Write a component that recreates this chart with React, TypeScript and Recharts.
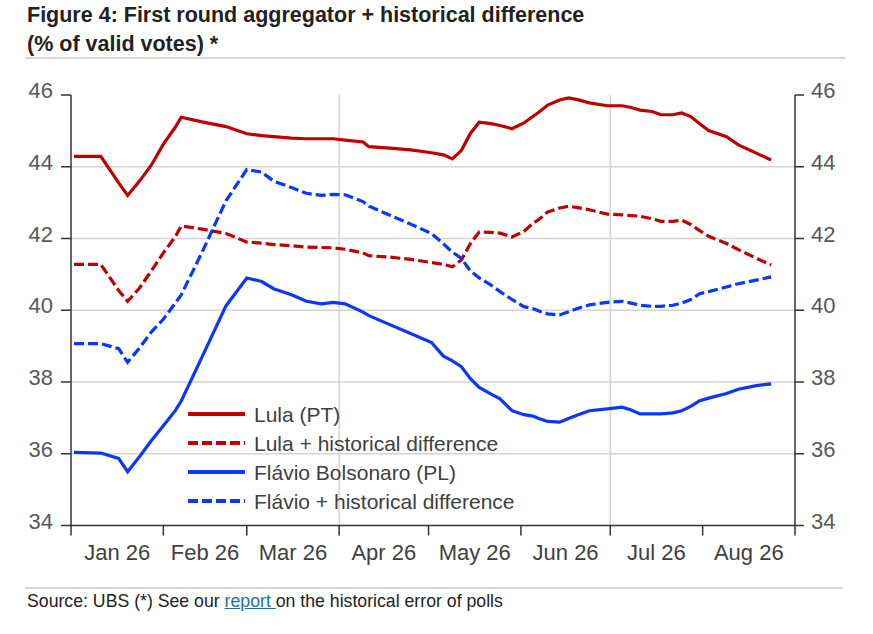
import React from 'react';
import { LineChart, Line, XAxis, YAxis, CartesianGrid } from 'recharts';

// Day index from 1 Jan 2026
const days = [1, 10, 16, 19, 23, 27, 31, 35, 37, 44, 52, 59, 64, 68, 74, 79, 84, 88, 92, 98, 100, 107, 114, 121, 125, 128, 131, 134, 137, 141, 144, 148, 152, 155, 157, 160, 164, 167, 170, 174, 180, 185, 188, 191, 195, 198, 202, 205, 208, 211, 214, 220, 224, 230, 235];

const lula = [44.29, 44.29, 43.55, 43.2, 43.6, 44.05, 44.63, 45.1, 45.38, 45.25, 45.12, 44.92, 44.87, 44.84, 44.8, 44.78, 44.78, 44.78, 44.74, 44.69, 44.56, 44.52, 44.47, 44.39, 44.33, 44.22, 44.45, 44.92, 45.24, 45.2, 45.15, 45.06, 45.22, 45.4, 45.52, 45.72, 45.86, 45.92, 45.87, 45.78, 45.7, 45.7, 45.65, 45.58, 45.54, 45.45, 45.45, 45.5, 45.4, 45.2, 45.01, 44.84, 44.61, 44.38, 44.19];

const lulaHist = [41.28, 41.28, 40.55, 40.25, 40.62, 41.1, 41.6, 42.05, 42.35, 42.26, 42.14, 41.9, 41.87, 41.83, 41.8, 41.76, 41.75, 41.74, 41.7, 41.6, 41.52, 41.48, 41.42, 41.33, 41.28, 41.21, 41.4, 41.85, 42.18, 42.17, 42.15, 42.04, 42.2, 42.42, 42.53, 42.74, 42.85, 42.9, 42.86, 42.8, 42.68, 42.66, 42.64, 42.62, 42.55, 42.48, 42.48, 42.51, 42.39, 42.22, 42.06, 41.86, 41.69, 41.45, 41.26];

const flavio = [36.04, 36.02, 35.87, 35.5, 35.92, 36.37, 36.78, 37.2, 37.47, 38.7, 40.12, 40.9, 40.8, 40.6, 40.43, 40.25, 40.18, 40.22, 40.18, 39.95, 39.85, 39.6, 39.35, 39.1, 38.72, 38.59, 38.43, 38.1, 37.85, 37.66, 37.53, 37.2, 37.09, 37.05, 36.98, 36.9, 36.88, 36.98, 37.08, 37.2, 37.25, 37.3, 37.22, 37.11, 37.11, 37.11, 37.14, 37.2, 37.32, 37.48, 37.55, 37.68, 37.8, 37.9, 37.95];

const flavioHist = [39.07, 39.07, 38.93, 38.55, 38.95, 39.4, 39.75, 40.2, 40.43, 41.62, 43.05, 43.92, 43.85, 43.6, 43.42, 43.26, 43.2, 43.23, 43.22, 43.03, 42.9, 42.65, 42.4, 42.14, 41.85, 41.62, 41.45, 41.1, 40.9, 40.7, 40.52, 40.3, 40.1, 40.05, 39.98, 39.9, 39.87, 39.96, 40.05, 40.15, 40.22, 40.25, 40.2, 40.14, 40.11, 40.11, 40.14, 40.2, 40.3, 40.46, 40.52, 40.65, 40.74, 40.84, 40.93];

const monthStarts = [0, 31, 59, 90, 120, 151, 181, 212, 243];
const monthLabels = ['Jan 26', 'Feb 26', 'Mar 26', 'Apr 26', 'May 26', 'Jun 26', 'Jul 26', 'Aug 26'];
const quarterStarts = [90, 181];
const yTicks = [34, 36, 38, 40, 42, 44, 46];
const gridValues = [36, 38, 40, 42, 44];

const FONT = '"Liberation Sans", Arial, Helvetica, sans-serif';
const RED = '#c00000';
const BLUE = '#0a36ff';
const AXIS = '#333333';

const seriesList = [
  { key: 'lula', name: 'Lula (PT)', color: RED, dash: undefined as string | undefined, axis: 'left' },
  { key: 'lulaHist', name: 'Lula + historical difference', color: RED, dash: '10 4', axis: 'left' },
  { key: 'flavio', name: 'Flávio Bolsonaro (PL)', color: BLUE, dash: undefined as string | undefined, axis: 'right' },
  { key: 'flavioHist', name: 'Flávio + historical difference', color: BLUE, dash: '10 4', axis: 'right' },
];

const data = days.map((d, i) => ({
  d,
  lula: lula[i],
  lulaHist: lulaHist[i],
  flavio: flavio[i],
  flavioHist: flavioHist[i],
}));

const PLOT_LEFT = 71;
const PLOT_RIGHT = 795;
const PLOT_TOP = 95;
const PLOT_BOTTOM = 525.5;
const W = 873;
const H = 634;
const YAXIS_W = 60;
const XAXIS_H = 40;
const PX_PER_DAY = (PLOT_RIGHT - PLOT_LEFT) / (monthStarts[monthStarts.length - 1] - monthStarts[0]);

const MonthTick = (props: any) => {
  const { x, y, payload } = props;
  const i = monthStarts.indexOf(payload.value);
  if (i < 0 || i >= monthLabels.length) return null;
  const half = ((monthStarts[i + 1] - monthStarts[i]) / 2) * PX_PER_DAY;
  return (
    <text x={x + half} y={y + 24} textAnchor="middle" fill="#404040" fontSize={22} fontFamily={FONT}>
      {monthLabels[i]}
    </text>
  );
};

const LeftTick = (props: any) => {
  const { x, y, payload } = props;
  return (
    <text x={x} y={y + 3} textAnchor="end" fill="#595959" fontSize={22} fontFamily={FONT}>
      {payload.value}
    </text>
  );
};

const RightTick = (props: any) => {
  const { x, y, payload } = props;
  return (
    <text x={x} y={y + 3} textAnchor="start" fill="#595959" fontSize={22} fontFamily={FONT}>
      {payload.value}
    </text>
  );
};

const LegendBox = () => (
  <div style={{ position: 'absolute', left: 188, top: 399.5, fontFamily: FONT }}>
    {seriesList.map((s) => (
      <div key={s.key} style={{ height: 29, display: 'flex', alignItems: 'center' }}>
        <svg width={66} height={10} style={{ display: 'block' }}>
          <line x1={0} y1={5} x2={57} y2={5} stroke={s.color} strokeWidth={4} strokeDasharray={s.dash} />
        </svg>
        <span style={{ fontSize: 21, color: '#404040', lineHeight: '29px', whiteSpace: 'nowrap' }}>{s.name}</span>
      </div>
    ))}
  </div>
);

export default function App() {
  return (
    <div style={{ position: 'absolute', left: 0, top: 0, width: W, height: H, background: '#fff', fontFamily: FONT }}>
      <div style={{ position: 'absolute', left: 27, top: 1, fontSize: 21.5, lineHeight: '29px', fontWeight: 'bold', color: '#222', whiteSpace: 'nowrap' }}>
        Figure 4: First round aggregator + historical difference
        <br />
        (% of valid votes) *
      </div>
      <div style={{ position: 'absolute', left: 25, top: 57, width: 820, height: 2, background: '#d6d6d6' }} />
      <div style={{ position: 'absolute', left: 0, top: 0 }}>
        <LineChart
          width={W}
          height={H}
          data={data}
          margin={{
            top: PLOT_TOP,
            bottom: H - PLOT_BOTTOM - XAXIS_H,
            left: PLOT_LEFT - YAXIS_W,
            right: W - PLOT_RIGHT - YAXIS_W,
          }}
        >
          <CartesianGrid
            xAxisId="x"
            yAxisId="left"
            stroke="#d4d4d4"
            strokeWidth={1.5}
            horizontalValues={gridValues}
            verticalValues={quarterStarts}
          />
          <XAxis
            xAxisId="x"
            dataKey="d"
            type="number"
            domain={[monthStarts[0], monthStarts[monthStarts.length - 1]]}
            ticks={monthStarts}
            interval={0}
            height={XAXIS_H}
            tick={<MonthTick />}
            tickSize={10}
            tickMargin={0}
            axisLine={{ stroke: AXIS, strokeWidth: 1.5 }}
            tickLine={{ stroke: AXIS, strokeWidth: 1.5 }}
            allowDataOverflow
          />
          <YAxis
            yAxisId="left"
            orientation="left"
            domain={[34, 46]}
            ticks={yTicks}
            interval={0}
            width={YAXIS_W}
            tick={<LeftTick />}
            tickSize={10}
            tickMargin={8}
            axisLine={{ stroke: AXIS, strokeWidth: 1.5 }}
            tickLine={{ stroke: AXIS, strokeWidth: 1.5 }}
            allowDataOverflow
          />
          <YAxis
            yAxisId="right"
            orientation="right"
            domain={[34, 46]}
            ticks={yTicks}
            interval={0}
            width={YAXIS_W}
            tick={<RightTick />}
            tickSize={9}
            tickMargin={7}
            axisLine={{ stroke: AXIS, strokeWidth: 1.5 }}
            tickLine={{ stroke: AXIS, strokeWidth: 1.5 }}
            allowDataOverflow
          />
          {seriesList.map((s) => (
            <Line
              key={s.key}
              xAxisId="x"
              yAxisId={s.axis}
              type="linear"
              dataKey={s.key}
              name={s.name}
              stroke={s.color}
              strokeWidth={3.2}
              strokeDasharray={s.dash}
              dot={false}
              activeDot={false}
              isAnimationActive={false}
            />
          ))}
        </LineChart>
      </div>
      <LegendBox />
      <div style={{ position: 'absolute', left: 25, top: 587, width: 818, height: 2, background: '#d6d6d6' }} />
      <div style={{ position: 'absolute', left: 27, top: 591, fontSize: 17.7, lineHeight: '20px', color: '#222', whiteSpace: 'nowrap' }}>
        Source: UBS (*) See our{' '}
        <span style={{ color: '#1f6e9c', textDecoration: 'underline' }}>report </span>
        on the historical error of polls
      </div>
    </div>
  );
}
